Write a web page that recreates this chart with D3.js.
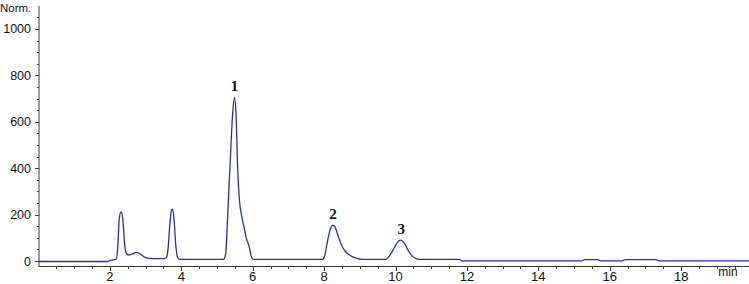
<!DOCTYPE html>
<html><head><meta charset="utf-8">
<script src="https://cdn.jsdelivr.net/npm/d3@7"></script>
<style>body{margin:0;background:#fff}svg{display:block}</style>
</head><body>
<svg id="c" width="749" height="284"></svg>
<script>
// retention time (min)
const times = [0, 1.95, 2.0, 2.1, 2.18, 2.22, 2.26, 2.31, 2.35, 2.42, 2.47, 2.52, 2.62, 2.75, 2.85, 2.98, 3.2, 3.5, 3.58, 3.62, 3.68, 3.73, 3.76, 3.8, 3.85, 3.9, 3.96, 4.5, 5.18, 5.24, 5.3, 5.38, 5.44, 5.49, 5.53, 5.58, 5.63, 5.69, 5.75, 5.82, 5.9, 5.96, 6.02, 7.95, 8.02, 8.1, 8.18, 8.25, 8.31, 8.4, 8.5, 8.6, 8.72, 8.9, 9.05, 9.72, 9.82, 9.92, 10.02, 10.1, 10.16, 10.24, 10.34, 10.45, 10.55, 10.66, 11.8, 11.85, 15.22, 15.3, 15.66, 15.74, 16.35, 16.43, 17.3, 17.38, 19.95];
// signal (Norm.)
const signal = [-2, -2, 3, 5, 8, 60, 180, 212, 195, 62, 30, 26, 30, 37, 30, 16, 10, 10, 14, 40, 160, 222, 224, 170, 60, 14, 7, 7, 7, 30, 200, 465, 640, 705, 640, 392, 260, 194, 150, 100, 62, 20, 7, 7, 25, 90, 140, 155, 145, 105, 65, 40, 25, 12, 7, 7, 20, 45, 72, 88, 90, 78, 50, 24, 12, 7, 7, 1, 1, 6, 6, 1, 1, 6, 6, 1, 1];
const yTickLabels = [0, 200, 400, 600, 800, 1000];
const xTickLabels = [2, 4, 6, 8, 10, 12, 14, 16, 18];
const peakLabels = ["1", "2", "3"];
const peakTimes = [5.49, 8.25, 10.16];
const peakHeights = [705, 155, 90];

const svg = d3.select("#c");
const x = d3.scaleLinear().domain([0, 19.9]).range([38.5, 749]);
const y = d3.scaleLinear().domain([-21.5, 1099]).range([266, 6]);
const axisColor = "#3a3a3a";

// y axis
const ya = svg.append("g");
ya.append("line").attr("x1", 39).attr("x2", 39).attr("y1", y(1099)).attr("y2", y(-21.5)).attr("stroke", axisColor).attr("stroke-width", 1);
d3.range(0, 1051, 50).forEach(v => {
  const major = v % 200 === 0;
  ya.append("line").attr("x1", major ? 35 : 37).attr("x2", 39).attr("y1", Math.round(y(v)) + 0.5).attr("y2", Math.round(y(v)) + 0.5).attr("stroke", axisColor);
});
ya.selectAll("text.yl").data(yTickLabels).join("text")
  .attr("x", 31).attr("y", d => y(d) + 4.5).attr("text-anchor", "end")
  .attr("font-family", "Liberation Sans, Arial, sans-serif").attr("font-size", 12.5).attr("fill", "#111")
  .text(d => d);
svg.append("text").attr("x", 0).attr("y", 12).attr("font-family", "Liberation Sans, Arial, sans-serif").attr("font-size", 11.5).attr("fill", "#111").text("Norm.");

// x axis
const xa = svg.append("g");
xa.append("line").attr("x1", 38.5).attr("x2", 749).attr("y1", 266.5).attr("y2", 266.5).attr("stroke", axisColor);
d3.range(0.5, 19.9, 0.5).forEach(t => {
  const major = Math.abs(t % 2) < 1e-6;
  xa.append("line").attr("x1", Math.round(x(t)) + 0.5).attr("x2", Math.round(x(t)) + 0.5).attr("y1", 266).attr("y2", major ? 271 : 269).attr("stroke", axisColor);
});
xa.selectAll("text.xl").data(xTickLabels).join("text")
  .attr("x", d => x(d)).attr("y", 281).attr("text-anchor", "middle")
  .attr("font-family", "Liberation Sans, Arial, sans-serif").attr("font-size", 13).attr("fill", "#111")
  .text(d => d);
svg.append("text").attr("x", 728).attr("y", 276).attr("text-anchor", "middle").attr("font-family", "Liberation Sans, Arial, sans-serif").attr("font-size", 12).attr("fill", "#111").text("min");

// trace
const pts = times.map((t, i) => [t, signal[i]]);
svg.append("path").datum(pts)
  .attr("d", d3.line().x(d => x(d[0])).y(d => y(d[1])).curve(d3.curveMonotoneX))
  .attr("fill", "none").attr("stroke", "#2b2bb0").attr("stroke-width", 1.3);

// peak labels
svg.selectAll("text.pk").data(peakLabels).join("text")
  .attr("x", (d, i) => x(peakTimes[i])).attr("y", (d, i) => y(peakHeights[i]) - 6)
  .attr("text-anchor", "middle").attr("font-family", "Liberation Serif, Times New Roman, serif")
  .attr("font-weight", "bold").attr("font-size", 15).attr("fill", "#111").text(d => d);
</script>
</body></html>
